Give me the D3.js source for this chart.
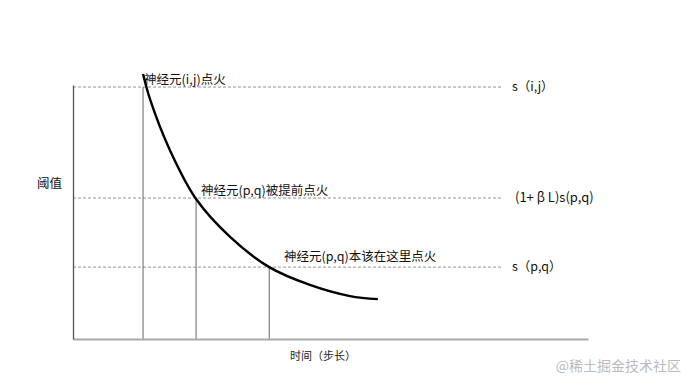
<!DOCTYPE html>
<html>
<head>
    <meta charset="utf-8">
    <style>
        body { margin: 0; background: #fff; }
        text { font-family: "Noto Sans CJK SC", "Noto Sans", sans-serif; }
    </style>
</head>
<body>
    <script src="https://cdn.jsdelivr.net/npm/d3@7"></script>
    <script>
        // time (steps) vs threshold
        var curveTime = [13.6, 15.0, 18.8, 23.9, 30.5, 38.1, 46.0, 53.8, 59.2];
        var curveThreshold = [104.3, 94.1, 74.4, 55.1, 40.2, 28.3, 21.3, 16.9, 15.7];

        var levelNames = ["s（i,j）", "(1+ β L)s(p,q)", "s（p,q）"];
        var levelValues = [99.2, 55.5, 28.3];
        var fireTimes = [13.6, 23.9, 38.1];
        var fireNotes = ["神经元(i,j)点火", "神经元(p,q)被提前点火", "神经元(p,q)本该在这里点火"];

        var yTitle = "阈值", xTitle = "时间（步长）";
        var watermark = "@稀土掘金技术社区";

        var width = 692, height = 389;
        var plot = { left: 73, right: 588, top: 85, bottom: 339 };

        var x = d3.scaleLinear().domain([0, 100]).range([plot.left, plot.right]);
        var y = d3.scaleLinear().domain([0, 100]).range([plot.bottom, plot.top]);

        var svg = d3.select("body").append("svg")
            .attr("width", width)
            .attr("height", height);

        // dashed threshold lines
        svg.append("g").selectAll("line")
            .data(levelValues)
            .enter().append("line")
            .attr("x1", plot.left).attr("x2", 503)
            .attr("y1", function (d) { return y(d); })
            .attr("y2", function (d) { return y(d); })
            .attr("stroke", "#777")
            .attr("stroke-width", 0.8)
            .attr("stroke-dasharray", "3,2");

        // vertical drop lines from firing points
        svg.append("g").selectAll("line")
            .data(fireTimes)
            .enter().append("line")
            .attr("x1", function (d) { return x(d); })
            .attr("x2", function (d) { return x(d); })
            .attr("y1", function (d, i) { return y(levelValues[i]); })
            .attr("y2", plot.bottom)
            .attr("stroke", "#666")
            .attr("stroke-width", 1);

        // axes (plain lines, no ticks)
        var xAxis = svg.append("g")
            .attr("transform", "translate(0," + plot.bottom + ")")
            .call(d3.axisBottom(x).tickValues([]).tickSizeOuter(0));
        xAxis.select(".domain").attr("stroke", "#aaa").attr("stroke-width", 2);

        var yAxis = svg.append("g")
            .attr("transform", "translate(" + plot.left + ",0)")
            .call(d3.axisLeft(y).tickValues([]).tickSizeOuter(0));
        yAxis.select(".domain").attr("stroke", "#555").attr("stroke-width", 1.3);

        // threshold curve
        var pts = curveTime.map(function (t, i) { return [t, curveThreshold[i]]; });
        svg.append("path")
            .datum(pts)
            .attr("fill", "none")
            .attr("stroke", "#000")
            .attr("stroke-width", 2.4)
            .attr("d", d3.line()
                .x(function (d) { return x(d[0]); })
                .y(function (d) { return y(d[1]); })
                .curve(d3.curveCatmullRom));

        // level labels on the right
        var levelX = [512, 515, 512], levelSize = [12.5, 13, 12.5];
        svg.append("g").selectAll("text")
            .data(levelNames)
            .enter().append("text")
            .attr("x", function (d, i) { return levelX[i]; })
            .attr("y", function (d, i) { return y(levelValues[i]) + 4; })
            .attr("font-size", function (d, i) { return levelSize[i]; })
            .attr("fill", "#111")
            .text(function (d) { return d; });

        // annotations near the curve
        var noteX = [144, 201, 284], noteDy = [-3, -3, -6];
        svg.append("g").selectAll("text")
            .data(fireNotes)
            .enter().append("text")
            .attr("x", function (d, i) { return noteX[i]; })
            .attr("y", function (d, i) { return y(levelValues[i]) + noteDy[i]; })
            .attr("font-size", 12.5)
            .attr("fill", "#111")
            .text(function (d) { return d; });

        svg.append("text")
            .attr("x", 37).attr("y", 188)
            .attr("font-size", 12.5)
            .attr("fill", "#111")
            .text(yTitle);

        svg.append("text")
            .attr("x", 290).attr("y", 360)
            .attr("font-size", 11)
            .attr("fill", "#222")
            .text(xTitle);

        svg.append("text")
            .attr("x", 681).attr("y", 371)
            .attr("text-anchor", "end")
            .attr("font-size", 14)
            .attr("fill", "#bbb")
            .text(watermark);
    </script>
</body>
</html>
